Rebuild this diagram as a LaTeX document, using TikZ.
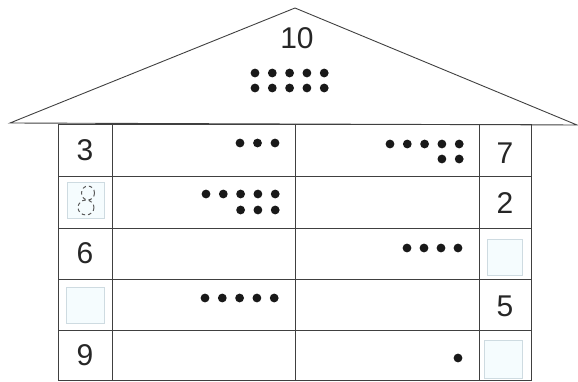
\documentclass[tikz,border=0pt]{standalone}
\usepackage{fontspec}
\setmainfont{Liberation Sans}
\tikzset{
  num/.style={font=\fontsize{30}{30}\selectfont, text=black!85},
  frame/.style={black!75, line width=0.9pt},
  blank/.style={draw=cyan!25!gray!35, fill=cyan!4, line width=0.8pt},
  pip/.style={black!90}
}
\begin{document}
\begin{tikzpicture}[x=1pt, y=-1pt]
        \useasboundingbox (0,0) rectangle (578,382);

        % roof
        \draw[frame, line join=miter] (10,123) -- (295,8) -- (577,125) -- cycle;
        \node[num] (roof) at (297,38) {10};
        \foreach \x in {255,272.3,289.6,306.9,324.2}
            \foreach \y in {73,88} \fill[pip] (\x,\y) circle (4.4);

        % table
        \draw[frame] (58,124) rectangle (531,380);
        \foreach \y in {176,228,279,330} \draw[frame] (58,\y) -- (531,\y);
        \foreach \x in {112,295,479} \draw[frame] (\x,124) -- (\x,380);

        % numbers and empty boxes
        \node[num] (a1) at (85,150) {3};
        \node[num] (b1) at (505,153) {7};
        \draw[blank] (67,182) rectangle (104,218);
        \draw[black!65, line width=1pt, dash pattern=on 3.5pt off 3pt]
            (88,193) ellipse (6.5 and 7) (86,207.5) ellipse (8 and 7.5);
        \node[num] (b2) at (505,203) {2};
        \node[num] (a3) at (85,253) {6};
        \draw[blank] (487,239) rectangle (522,275);
        \draw[blank] (66,287) rectangle (104,323);
        \node[num] (b4) at (505,306) {5};
        \node[num] (a5) at (85,355) {9};
        \draw[blank] (484,340) rectangle (522,378);

        % dots
        \foreach \x in {240,257.5,275} \fill[pip] (\x,143) circle (4.4);
        \foreach \x in {390,407.3,424.6,441.9,459.2} \fill[pip] (\x,144) circle (4.4);
        \foreach \x in {441.9,459.2} \fill[pip] (\x,159) circle (4.4);
        \foreach \x in {206,223.3,240.6,257.9,275.2} \fill[pip] (\x,194) circle (4.4);
        \foreach \x in {240.6,257.9,275.2} \fill[pip] (\x,210) circle (4.4);
        \foreach \x in {407,424,441,458} \fill[pip] (\x,248) circle (4.4);
        \foreach \x in {205,222.3,239.6,256.9,274.2} \fill[pip] (\x,298) circle (4.4);
        \fill[pip] (458,358) circle (4.4);
    \end{tikzpicture}
\end{document}
